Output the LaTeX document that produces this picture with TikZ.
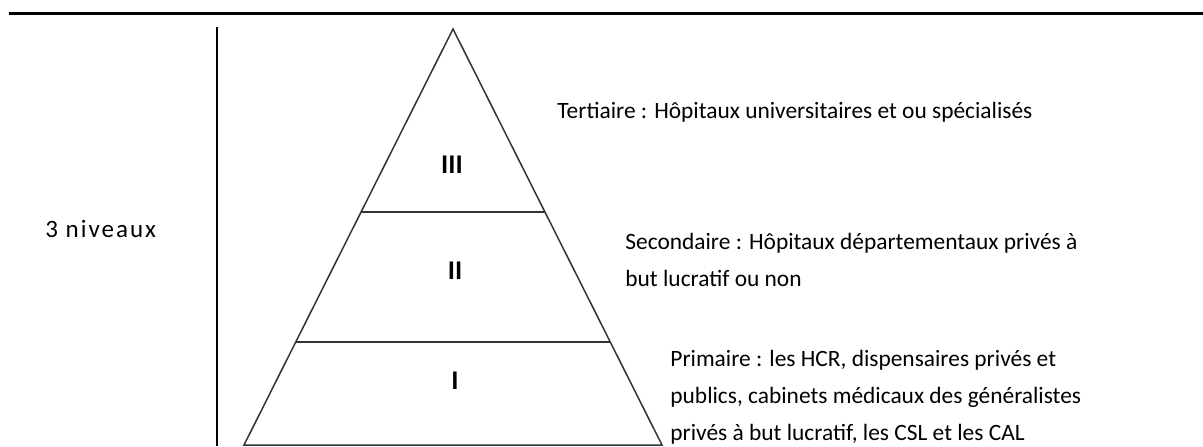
\documentclass[tikz,border=0pt]{standalone}
\usepackage{fontspec}
\setmainfont{Carlito}
\newfontfamily\spacedfont{Carlito}[LetterSpace=8]
\usepackage{tikz}
\usetikzlibrary{positioning, calc}

\begin{document}
\begin{tikzpicture}[x=0.5pt, y=-0.5pt,
  level/.style={font=\fontsize{13.5}{15}\selectfont\bfseries, inner sep=0pt},
  info/.style={font=\fontsize{11.7}{18.5}\selectfont, align=left, anchor=west, inner sep=0pt},
  edge/.style={draw=black!80, line width=0.75pt}]
  \useasboundingbox (0,0) rectangle (1203,446);

  % Frame lines
  \draw[line width=1.5pt] (9,13) -- (1203,13);
  \draw[line width=0.75pt] (217,27) -- (217,446);
  \node[info, font=\fontsize{12.5}{14}\spacedfont] (niveaux) at (45,229) {3 niveaux};

  % Pyramid
  \coordinate (apex) at (453,29);
  \coordinate (bl) at (244,445);
  \coordinate (br) at (662,445);
  \draw[edge] (bl) -- (apex) -- (br) -- cycle;
  \draw[edge] ($(apex)!0.44!(bl)$) -- ($(apex)!0.44!(br)$);
  \draw[edge] ($(apex)!0.752!(bl)$) -- ($(apex)!0.752!(br)$);
  \node[level] (lvIII) at (452,165) {III};
  \node[level] (lvII) at (455,271) {II};
  \node[level] (lvI) at (455,381) {I};

  % Descriptions
  \node[info] (tert) at (557,112) {Tertiaire : Hôpitaux universitaires et ou spécialisés};
  \node[info] (second) at (625,260) {Secondaire : Hôpitaux départementaux privés à\\but lucratif ou non};
  \node[info] (prim) at (670,397) {Primaire : les HCR, dispensaires privés et\\publics, cabinets médicaux des généralistes\\privés à but lucratif, les CSL et les CAL};
\end{tikzpicture}
\end{document}
